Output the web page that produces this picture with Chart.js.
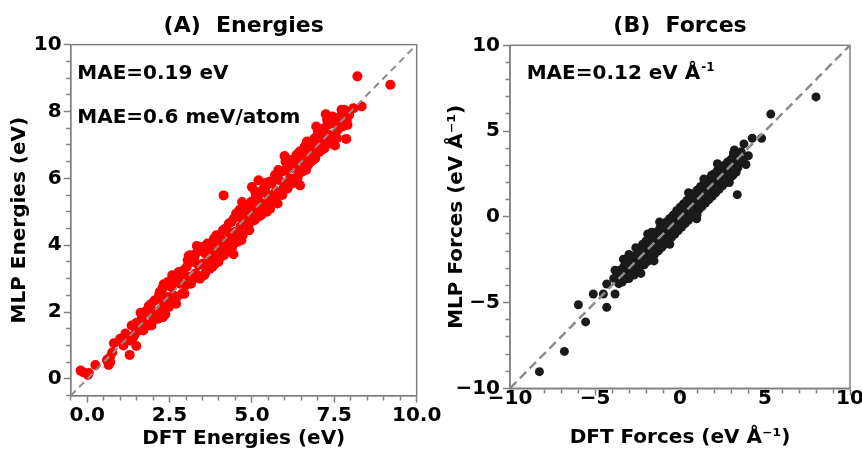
<!DOCTYPE html>
<html><head><meta charset="utf-8">
<script src="https://cdn.jsdelivr.net/npm/chart.js@4.4.0/dist/chart.umd.min.js"></script>
<style>
html,body{margin:0;padding:0;background:#fff;}
#wrap{position:relative;width:862px;height:451px;overflow:hidden;background:#fff;}
#cA{position:absolute;left:0;top:0;}
#cB{position:absolute;left:435px;top:0;}
</style></head><body>
<div id="wrap"><canvas id="cA" width="445" height="451"></canvas><canvas id="cB" width="427" height="451"></canvas></div>
<script>
// ---------- data ----------
const dftEnergies = [-0.20,-0.12,0.02,0.05,0.25,0.60,0.65,0.70,0.76,0.69,0.81,1.00,1.10,1.16,1.29,1.30,1.35,1.40,1.49,1.50,
1.45,1.55,1.60,1.62,1.65,1.70,1.72,1.75,1.80,1.85,1.87,1.90,1.95,2.00,2.05,2.10,2.12,2.15,2.18,2.22,
2.25,2.28,2.32,2.35,2.37,2.42,2.45,2.48,2.52,2.55,2.58,2.62,2.65,2.68,2.72,2.75,2.78,2.82,2.88,2.92,
2.98,3.02,3.08,3.08,3.12,3.15,3.22,3.28,3.30,3.33,3.38,3.42,3.45,3.52,3.58,3.60,3.65,3.70,3.75,3.80,
3.85,3.90,3.95,3.98,4.02,4.06,4.10,4.14,4.15,4.20,4.25,4.30,4.35,4.40,4.44,4.45,4.50,4.55,4.60,4.65,
4.70,4.72,4.78,4.82,4.88,4.92,4.96,5.00,5.02,5.08,5.12,5.16,5.20,5.22,5.28,5.32,5.36,5.42,5.45,5.50,
5.55,5.60,5.64,5.70,5.72,5.78,5.82,5.86,5.90,5.95,5.99,6.01,6.05,6.10,6.15,6.20,6.26,6.30,6.35,6.40,
6.46,6.50,6.55,6.58,6.62,6.67,6.70,6.75,6.80,6.85,6.90,6.95,6.98,7.02,7.08,7.12,7.18,7.24,7.25,7.30,
7.35,7.42,7.48,7.52,7.55,7.60,7.68,7.75,7.80,7.86,7.88,7.86,7.95,8.08,8.20,8.33,9.20,
1.95,2.20,2.30,2.50,2.60,2.70,2.85,2.95,3.05,3.18,
3.25,3.35,3.50,3.55,3.68,3.72,3.82,3.88,3.92,4.05,
4.12,4.18,4.28,4.32,4.38,4.48,4.52,4.58,4.62,4.68,
4.75,4.85,4.90,4.98,5.05,5.10,5.18,5.25,5.30,5.38,
5.48,5.52,5.58,5.66,5.75,5.80,5.92,6.02,6.08,6.18,
6.22,6.32,6.38,6.45,6.52,6.60,6.64,6.72,6.78,6.88,
6.92,7.00,7.05,7.15,7.20,7.28,7.38,7.45,7.58,7.65,
7.72,7.90];
const mlpEnergies = [0.25,0.20,0.12,0.18,0.42,0.57,0.42,0.50,0.79,0.65,1.07,1.20,1.00,1.36,0.72,1.15,1.60,1.25,0.99,1.68,
1.35,1.45,1.55,1.98,1.80,1.45,1.98,1.65,2.05,1.60,2.18,2.00,2.25,1.75,2.35,2.00,2.38,1.80,2.50,1.98,
2.10,2.70,2.83,2.25,1.93,2.45,2.90,2.15,2.88,2.75,3.10,2.50,3.05,2.90,2.45,3.15,3.20,2.85,2.55,3.25,
2.80,3.35,3.05,3.68,3.70,2.85,3.50,3.15,3.75,3.98,3.40,3.00,3.85,3.45,3.75,3.20,4.05,3.55,3.90,3.35,
4.20,3.70,4.05,3.50,4.30,3.85,4.15,5.49,3.70,4.50,4.05,4.65,4.25,3.95,3.73,4.80,4.40,4.10,4.85,4.55,
5.29,4.30,4.95,4.60,5.20,4.45,4.85,5.74,5.10,4.75,5.45,5.00,5.94,5.30,4.90,5.65,5.20,5.75,5.00,5.50,
5.09,5.85,5.35,6.10,5.60,5.25,5.95,5.55,6.20,5.70,6.67,6.24,5.85,6.40,6.00,6.55,5.99,6.35,6.70,6.10,
5.79,6.55,6.85,6.30,6.60,7.10,6.40,6.80,7.05,6.55,7.20,7.55,6.75,7.10,7.35,6.85,7.50,7.92,7.15,7.60,
7.30,7.65,7.25,6.98,7.70,7.45,7.85,7.55,8.05,7.18,7.75,8.00,7.90,8.10,9.05,8.15,8.80,
1.60,2.60,1.85,2.30,2.95,2.25,3.10,2.55,3.55,2.95,
3.60,3.10,3.95,3.10,3.85,3.30,4.10,3.45,4.30,3.65,
4.45,3.90,4.40,3.85,4.70,4.20,4.95,4.30,5.05,4.15,
4.70,5.05,4.60,5.30,4.90,5.60,4.85,5.55,5.05,5.85,
5.30,5.90,5.25,5.95,5.45,6.25,5.50,6.50,5.70,6.30,
5.85,6.60,6.00,6.80,6.20,6.95,6.25,7.00,6.50,6.90,
6.60,7.40,6.80,7.20,6.90,7.75,7.05,7.85,7.20,7.60,
8.05,7.60];

const dftForces = [-3.60,-3.55,-3.50,-3.45,-3.40,-3.35,-3.30,-3.25,-3.20,-3.15,-3.10,-3.05,-3.00,-2.95,-2.90,-2.85,-2.80,-2.75,-2.70,-2.65,
-2.60,-2.55,-2.50,-2.45,-2.40,-2.35,-2.30,-2.25,-2.20,-2.15,-2.10,-2.05,-2.00,-1.95,-1.90,-1.85,-1.80,-1.75,-1.70,-1.65,
-1.60,-1.55,-1.50,-1.45,-1.40,-1.35,-1.30,-1.25,-1.20,-1.15,-1.10,-1.05,-1.00,-0.95,-0.90,-0.85,-0.80,-0.75,-0.70,-0.65,
-0.60,-0.55,-0.50,-0.45,-0.40,-0.35,-0.30,-0.25,-0.20,-0.15,-0.10,-0.05,0.00,0.05,0.10,0.15,0.20,0.25,0.30,0.35,
0.40,0.45,0.50,0.55,0.60,0.65,0.70,0.75,0.80,0.85,0.90,0.95,1.00,1.05,1.10,1.15,1.20,1.25,1.30,1.35,
1.40,1.45,1.50,1.55,1.60,1.65,1.70,1.75,1.80,1.85,1.90,1.95,2.00,2.05,2.10,2.15,2.20,2.25,2.30,2.35,
2.40,2.45,2.50,2.55,2.60,2.65,2.70,2.75,2.80,2.85,2.90,2.95,3.00,3.05,3.10,3.15,3.20,3.25,3.30,3.40,
3.45,3.50,-1.00,-0.50,0.00,0.50,1.00,-2.00,2.00,-1.50,1.50,-0.20,0.30,0.80,-0.80,1.30,-1.30,2.40,-2.40,0.10,
-0.10,3.37,3.76,4.02,3.88,4.25,4.80,5.34,8.00,3.70,3.60,-3.82,-3.33,-3.60,-3.90,-4.31,-4.51,-5.10,-3.82,-4.31,
-5.98,-5.55,-6.80,-8.27,-1.53,0.98,
-3.20,-3.00,-2.80,-2.70,-2.50,-2.40,-2.20,-2.10,-2.00,-1.90,
-1.80,-1.70,-1.60,-1.50,-1.40,-1.30,-1.20,-1.10,-1.00,-0.90,
-0.80,-0.70,-0.60,-0.50,-0.40,-0.30,-0.20,-0.10,0.00,0.10,
0.20,0.30,0.40,0.50,0.60,0.70,0.80,0.90,1.00,1.10,
1.20,1.30,1.40,1.50,1.60,1.70,1.80,1.90,2.00,2.10,
2.20,2.30,2.40,2.50,2.60,2.70,2.80,2.90,3.00,3.10,
3.20,3.30,
-0.90,-0.40,0.20,0.60,1.10,1.60,-1.60,-2.10,0.00,0.30,-0.60,0.90,-1.20,1.90,2.60,-2.60,
-2.60,-1.90,1.40,2.20,0.50,-0.60,1.00,-2.30,2.90,-3.00,3.20,-1.20,3.14,2.94,1.86,-1.67];
const mlpForces = [-3.30,-3.70,-3.10,-3.50,-3.80,-3.20,-2.90,-3.45,-3.00,-3.60,-2.80,-3.30,-3.05,-2.60,-3.40,-2.85,-3.15,-2.50,-2.95,-3.20,
-2.40,-2.75,-2.20,-2.90,-2.55,-2.10,-2.70,-2.35,-1.95,-2.60,-2.15,-2.45,-1.80,-2.30,-1.95,-2.50,-1.60,-2.10,-1.75,-2.25,
-1.45,-1.90,-1.60,-2.05,-1.30,-1.70,-1.45,-1.95,-1.10,-1.50,-1.25,-1.75,-0.85,-1.30,-1.05,-1.55,-0.60,-1.00,-0.80,-1.30,
-0.40,-0.85,-0.60,-1.05,-0.20,-0.60,-0.35,-0.85,0.05,-0.40,-0.15,-0.65,0.20,-0.20,0.05,-0.45,0.45,0.00,0.25,-0.25,
0.70,0.20,0.45,0.00,0.90,0.40,0.65,0.20,1.10,0.60,0.85,0.40,1.30,0.80,1.05,0.60,1.50,1.00,1.25,0.80,
1.70,1.20,1.45,1.00,1.90,1.40,1.65,1.20,2.10,1.60,1.85,1.40,2.30,1.80,2.05,1.60,2.50,2.00,2.25,1.80,
2.70,2.20,2.45,2.00,2.85,2.40,2.65,2.25,3.05,2.60,2.85,2.40,3.20,2.75,3.00,2.60,3.35,2.95,3.15,2.85,
3.45,3.10,-1.00,-0.35,0.00,0.60,1.00,-2.10,2.10,-1.30,1.70,-0.50,0.55,0.80,-0.90,1.50,-1.20,2.40,-2.30,-0.30,
0.20,1.29,4.25,3.56,3.05,4.58,4.58,5.99,6.99,3.30,3.80,-3.11,-2.47,-3.90,-3.60,-3.92,-4.50,-4.50,-4.50,-5.28,
-5.13,-6.13,-7.85,-9.03,-2.57,-0.12,
-2.60,-3.60,-2.30,-3.40,-1.90,-3.10,-1.60,-2.80,-1.40,-2.60,
-1.30,-2.40,-1.00,-2.20,-0.90,-2.00,-0.70,-1.80,-0.50,-1.60,
-0.30,-1.40,-0.10,-1.20,0.10,-1.00,0.35,-0.80,0.55,-0.60,
0.75,-0.40,0.95,-0.20,1.15,0.00,1.35,0.20,1.55,0.40,
1.75,0.60,1.95,0.80,2.15,1.00,2.30,1.20,2.50,1.40,
2.70,1.60,2.85,1.80,3.00,2.00,3.20,2.20,3.35,2.40,
3.50,2.60,
-0.70,-0.50,0.10,0.35,0.90,1.40,-1.70,-2.00,-0.30,0.60,-0.30,1.00,-1.40,2.00,2.50,-2.70,
-1.80,-1.00,2.20,3.10,1.40,-1.60,0.10,-3.30,2.00,-2.20,3.90,-0.30,3.72,2.82,2.43,-0.90];

const energyRange = [-0.5, 10];
const forceRange = [-10, 10];
const energyXMajor = [0, 2.5, 5, 7.5, 10];
const energyYMajor = [0, 2, 4, 6, 8, 10];
const forceMajor = [-10, -5, 0, 5, 10];
const maeEnergyLines = ['MAE=0.19 eV', 'MAE=0.6 meV/atom'];
const maeForceLine = 'MAE=0.12 eV \u00C5';
const maeForceSup = '-1';

// ---------- styles ----------
const TF = "'DejaVu Sans', sans-serif";
const GRAY = '#808080';

const isMajor = (v, list) => list.some(m => Math.abs(m - v) < 1e-6);
const fmtMinus = v => v < 0 ? '\u2212' + Math.abs(v) : String(v);

const framePlugin = {
  id: 'frame',
  beforeDatasetsDraw(chart) {
    const {ctx, chartArea: a} = chart;
    ctx.save();
    ctx.strokeStyle = GRAY; ctx.lineWidth = 1.5;
    ctx.strokeRect(a.left, a.top, a.right - a.left, a.bottom - a.top);
    ctx.restore();
  }
};
const annotPlugin = {
  id: 'annot',
  afterDraw(chart, args, o) {
    const {ctx, chartArea: a} = chart;
    ctx.save();
    ctx.fillStyle = '#000'; ctx.textBaseline = 'middle'; ctx.textAlign = 'left';
    o.lines.forEach(l => {
      const x = a.left + l.dx, y = a.top + l.dy;
      ctx.font = `bold ${o.size}px ${TF}`;
      ctx.fillText(l.text, x, y);
      if (l.sup) {
        const w = ctx.measureText(l.text).width;
        ctx.font = `bold ${o.supSize}px ${TF}`;
        ctx.fillText(l.sup, x + w + 1, y - 6);
      }
    });
    ctx.restore();
  }
};

function axis(cfg) {
  return {
    type: 'linear', position: cfg.pos, min: cfg.range[0], max: cfg.range[1],
    ticks: {
      stepSize: cfg.step, autoSkip: false, maxRotation: 0, minRotation: 0, includeBounds: true,
      color: '#000', padding: cfg.tickPad,
      font: {family: TF, size: 20, weight: 'bold', lineHeight: 1.2},
      callback: v => isMajor(v, cfg.major) ? cfg.fmt(v) : ''
    },
    grid: {
      drawOnChartArea: false, drawTicks: true, tickLength: 7, tickWidth: 1.5, tickColor: GRAY,
      tickBorderDash: c => (c.tick && !isMajor(c.tick.value, cfg.major)) ? cfg.minorDash : []
    },
    border: {display: true, color: GRAY, width: 1.5},
    title: {
      display: true, text: cfg.title, color: '#000',
      font: {family: TF, size: 20, weight: 'bold', lineHeight: 1},
      padding: cfg.titlePad
    },
    afterFit: s => {
      if (cfg.pos === 'bottom') { s.height = cfg.size; }
      else { s.width = cfg.size; }
      s.paddingLeft = 0; s.paddingRight = 0; s.paddingTop = 0; s.paddingBottom = 0;
    }
  };
}

function makeChart(canvas, o) {
  return new Chart(canvas, {
    type: 'scatter',
    data: {
      datasets: [
        {type: 'line', data: o.range.map(v => ({x: v, y: v})), borderColor: '#8c8c8c',
         borderWidth: o.lineW, borderDash: o.dash, pointRadius: 0, fill: false, order: 0},
        {type: 'scatter', data: o.xs.map((x, i) => ({x: x, y: o.ys[i]})),
         backgroundColor: o.color, borderColor: o.color, borderWidth: 0, pointRadius: o.r, order: 1}
      ]
    },
    options: {
      responsive: false, animation: false, devicePixelRatio: 1,
      layout: {padding: o.padding},
      plugins: {
        legend: {display: false}, tooltip: {enabled: false},
        title: {display: true, text: o.title, fullSize: false, color: '#000',
          font: {family: TF, size: 22, weight: 'bold', lineHeight: 1.2}, padding: o.titlePad},
        annot: o.annot
      },
      scales: {x: axis(o.x), y: axis(o.y)}
    },
    plugins: [framePlugin, annotPlugin]
  });
}

makeChart(document.getElementById('cA'), {
  range: energyRange, xs: dftEnergies, ys: mlpEnergies, color: '#ff0000', r: 5,
  lineW: 2, dash: [7, 5],
  padding: {left: 0, right: 28.3, top: 0, bottom: 0},
  title: '(A)  Energies', titlePad: {top: 12.6, bottom: 5.6},
  annot: {size: 20, supSize: 12, lines: [{text: maeEnergyLines[0], dx: 6.6, dy: 29}, {text: maeEnergyLines[1], dx: 6.6, dy: 72.7}]},
  x: {pos: 'bottom', range: energyRange, step: 0.5, major: energyXMajor, fmt: v => v.toFixed(1),
      tickPad: 1, minorDash: [4, 20], title: 'DFT Energies (eV)', titlePad: {top: 0, bottom: 2}, size: 55.3},
  y: {pos: 'left', range: energyRange, step: 0.5, major: energyYMajor, fmt: v => String(v),
      tickPad: 2, minorDash: [0, 2.5, 4, 20], title: 'MLP Energies (eV)', titlePad: {top: 9.5, bottom: 0}, size: 70.7}
});

makeChart(document.getElementById('cB'), {
  range: forceRange, xs: dftForces, ys: mlpForces, color: '#1a1a1a', r: 4.5,
  lineW: 2.5, dash: [9, 5],
  padding: {left: 0, right: 12, top: 0, bottom: 0},
  title: '(B)  Forces', titlePad: {top: 13, bottom: 5.9},
  annot: {size: 20, supSize: 12, lines: [{text: maeForceLine, sup: maeForceSup, dx: 16.7, dy: 28.3}]},
  x: {pos: 'bottom', range: forceRange, step: 1, major: forceMajor, fmt: fmtMinus,
      tickPad: -9, minorDash: [4, 20], title: 'DFT Forces (eV \u00C5\u207B\u00B9)', titlePad: {top: 0, bottom: 3.5}, size: 62.7},
  y: {pos: 'left', range: forceRange, step: 1, major: forceMajor, fmt: fmtMinus,
      tickPad: 3, minorDash: [0, 2.5, 4, 20], title: 'MLP Forces (eV \u00C5\u207B\u00B9)', titlePad: {top: 11.5, bottom: 0}, size: 75}
});
</script>
</body></html>
